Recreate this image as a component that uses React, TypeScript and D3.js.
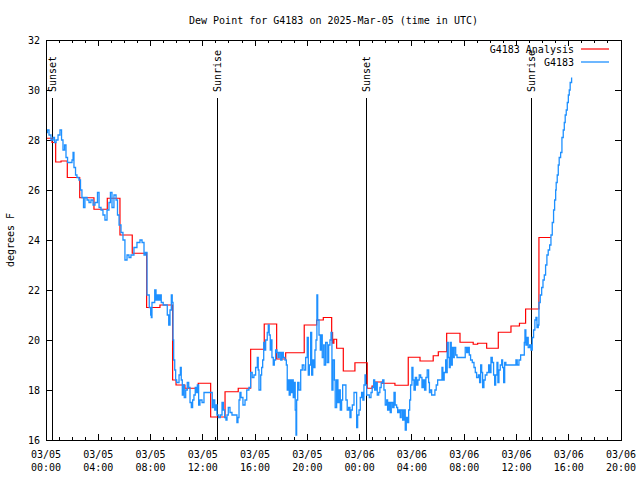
import React from "react";
import * as d3 from "d3";

// ---------- data ----------
const titleText = "Dew Point for G4183 on 2025-Mar-05 (time in UTC)";
const yLabel = "degrees F";
const seriesNames = ["G4183 Analysis", "G4183"];

// hours since 03/05 00:00 UTC
const xTickHours = [0, 4, 8, 12, 16, 20, 24, 28, 32, 36, 40, 44];
const xTickDates = ["03/05", "03/05", "03/05", "03/05", "03/05", "03/05", "03/06", "03/06", "03/06", "03/06", "03/06", "03/06"];
const xTickTimes = ["00:00", "04:00", "08:00", "12:00", "16:00", "20:00", "00:00", "04:00", "08:00", "12:00", "16:00", "20:00"];
const yTicks = [16, 18, 20, 22, 24, 26, 28, 30, 32];

const sunEventHours = [0.48, 13.1, 24.5, 37.13];
const sunEventLabels = ["Sunset", "Sunrise", "Sunset", "Sunrise"];

// analysis (red, step)
const analysisHours = [0.05, 0.46, 0.74, 1.15, 1.63, 2.58, 3.67, 4.69, 5.66, 6.6, 7.7, 8.72, 9.69, 9.95, 10.63, 11.65, 12.6, 13.7, 14.71, 15.66, 16.7, 17.65, 18.34, 19.76, 20.71, 21.22, 21.86, 21.93, 22.03, 22.24, 22.75, 23.64, 24.58, 24.95, 25.17, 25.68, 26.7, 27.72, 28.62, 29.63, 30.02, 30.66, 31.68, 32.69, 33.03, 33.72, 34.61, 35.58, 36.23, 36.7, 37.72, 38.64];
const analysisValues = [28.07, 27.9, 27.12, 27.16, 26.5, 25.69, 25.23, 25.67, 24.2, 23.47, 21.3, 21.4, 18.4, 18.2, 18.07, 18.27, 16.92, 17.93, 18.07, 19.63, 20.64, 19.24, 19.49, 20.6, 20.8, 20.9, 20.3, 19.87, 20.03, 19.67, 18.76, 19.09, 18.07, 18.16, 18.32, 18.27, 18.19, 19.31, 19.16, 19.37, 19.53, 20.27, 19.91, 19.83, 19.87, 19.67, 20.31, 20.56, 20.67, 21.24, 24.1, 24.1];

// observations (blue, step)
const obsHours = [
  0.04, 0.11, 0.23, 0.38, 0.54, 0.65, 0.77, 0.92, 1.07, 1.19, 1.3, 1.42, 1.53, 1.65, 1.84, 1.99, 2.07, 2.14, 2.26, 2.37,
  2.52, 2.64, 2.75, 2.87, 2.98, 3.14, 3.29, 3.44, 3.6, 3.75, 3.94, 4.06, 4.21, 4.36, 4.51, 4.67, 4.82, 4.93, 5.05, 5.2,
  5.36, 5.47, 5.59, 5.74, 5.89, 6.04, 6.2, 6.35, 6.5, 6.73, 6.96, 7.19, 7.35, 7.5, 7.61, 7.73, 7.9, 8.01, 8.06, 8.11,
  8.32, 8.42, 8.52, 8.62, 8.72, 8.82, 8.97, 9.28, 9.39, 9.49, 9.59, 9.66, 9.72, 9.77, 9.85, 9.92, 10.0, 10.1, 10.18, 10.28,
  10.35, 10.43, 10.5, 10.58, 10.69, 10.81, 10.92, 11.02, 11.12, 11.22, 11.32, 11.42, 11.5, 11.58, 11.68, 11.78, 11.94, 12.09, 12.42, 12.68,
  12.72, 12.8, 12.91, 13.01, 13.08, 13.21, 13.34, 13.47, 13.57, 13.67, 13.77, 13.85, 13.95, 14.08, 14.23, 14.48, 14.61, 14.69, 14.77, 14.84,
  14.92, 15.07, 15.23, 15.36, 15.53, 15.66, 15.78, 15.91, 16.04, 16.17, 16.24, 16.3, 16.43, 16.5, 16.58, 16.66, 16.7, 16.81, 16.93, 17.01,
  17.08, 17.16, 17.21, 17.29, 17.39, 17.47, 17.57, 17.67, 17.75, 17.85, 17.96, 18.06, 18.16, 18.29, 18.39, 18.46, 18.54, 18.61, 18.69, 18.77,
  18.84, 18.92, 19.0, 19.07, 19.13, 19.18, 19.26, 19.36, 19.49, 19.61, 19.74, 19.87, 19.99, 20.07, 20.15, 20.25, 20.33, 20.41, 20.5, 20.58,
  20.66, 20.73, 20.79, 20.89, 20.99, 21.06, 21.14, 21.25, 21.29, 21.4, 21.52, 21.63, 21.73, 21.81, 21.88, 21.96, 22.07, 22.13, 22.24, 22.34,
  22.44, 22.52, 22.62, 22.7, 22.88, 22.95, 23.05, 23.16, 23.26, 23.34, 23.44, 23.57, 23.66, 23.77, 23.85, 23.95, 24.05, 24.15, 24.25, 24.33,
  24.41, 24.46, 24.54, 24.74, 24.87, 24.96, 25.07, 25.15, 25.25, 25.35, 25.46, 25.55, 25.65, 25.76, 25.86, 25.96, 26.07, 26.14, 26.24, 26.34,
  26.42, 26.53, 26.63, 26.72, 26.83, 26.91, 27.01, 27.11, 27.18, 27.29, 27.39, 27.49, 27.57, 27.67, 27.75, 27.83, 27.9, 28.0, 28.08, 28.16,
  28.26, 28.36, 28.46, 28.56, 28.67, 28.77, 28.87, 28.97, 29.07, 29.17, 29.28, 29.34, 29.4, 29.51, 29.66, 29.76, 29.86, 29.97, 30.17, 30.3,
  30.37, 30.47, 30.58, 30.63, 30.7, 30.78, 30.86, 30.93, 31.01, 31.09, 31.16, 31.24, 31.35, 31.45, 32.0, 32.08, 32.19, 32.29, 32.39, 32.49,
  32.62, 32.75, 32.85, 32.95, 33.08, 33.18, 33.26, 33.34, 33.41, 33.51, 33.61, 33.74, 33.87, 33.97, 34.05, 34.15, 34.25, 34.33, 34.41, 34.51,
  34.58, 34.66, 34.76, 34.87, 34.94, 35.02, 35.1, 35.19, 35.88, 35.96, 36.06, 36.19, 36.32, 36.52, 36.6, 36.65, 36.72, 36.8, 36.9, 37.01,
  37.11, 37.21, 37.31, 37.41, 37.49, 37.57, 37.67, 37.72, 37.82, 37.93, 38.03, 38.13, 38.23, 38.33, 38.43, 38.54, 38.64, 38.74, 38.84, 38.92,
  39.0, 39.04, 39.12, 39.2, 39.27, 39.38, 39.48, 39.58, 39.66, 39.73, 39.81, 39.89, 39.97, 40.04, 40.11, 40.22,
];
const obsValues = [
  28.3, 28.4, 28.2, 28.0, 28.1, 27.9, 28.0, 28.2, 28.4, 28.0, 27.6, 27.8, 27.3, 27.1, 27.1, 27.2, 27.5, 26.9, 26.6, 26.5,
  26.4, 26.0, 25.7, 25.3, 25.7, 25.6, 25.5, 25.6, 25.4, 25.5, 25.9, 25.3, 25.2, 25.0, 24.8, 25.2, 25.5, 25.9, 25.3, 25.8,
  25.6, 25.0, 24.6, 24.3, 24.0, 23.2, 23.4, 23.3, 23.4, 23.7, 23.9, 24.0, 23.9, 23.4, 23.5, 21.8, 21.3, 21.0, 20.9, 21.5,
  22.0, 21.6, 21.8, 21.6, 21.8, 21.5, 21.4, 21.0, 20.6, 21.2, 21.8, 21.5, 20.0, 19.2, 18.8, 18.4, 18.3, 18.3, 18.6, 18.9,
  18.4, 17.8, 18.2, 17.7, 18.0, 18.3, 18.1, 17.5, 17.3, 17.6, 17.8, 18.1, 17.9, 18.2, 17.4, 17.6, 17.5, 17.9, 17.9, 17.9,
  17.3, 17.6, 17.2, 17.4, 17.0, 16.9, 17.0, 17.5, 17.2, 16.9, 16.8, 17.0, 17.3, 17.1, 17.0, 17.0, 16.7, 16.9, 17.6, 17.9,
  17.7, 17.4, 17.6, 18.0, 18.1, 18.7, 18.5, 18.6, 18.9, 19.3, 18.8, 18.0, 18.6, 18.9, 19.2, 19.9, 19.6, 20.0, 20.3, 20.6,
  20.2, 19.6, 20.0, 19.3, 19.0, 19.2, 19.6, 19.5, 19.3, 19.5, 19.2, 19.5, 19.3, 19.2, 19.0, 18.0, 18.4, 17.8, 18.4, 17.9,
  18.4, 17.7, 18.3, 17.2, 16.2, 17.6, 18.3, 18.0, 18.8, 19.0, 18.8, 19.3, 20.1, 18.6, 19.0, 20.3, 18.6, 19.2, 18.9, 19.6,
  20.0, 21.8, 20.8, 20.2, 19.6, 20.2, 19.3, 19.8, 19.0, 19.9, 19.1, 19.8, 20.0, 20.3, 18.0, 19.2, 18.4, 17.3, 18.4, 17.5,
  18.0, 17.2, 17.6, 18.2, 18.2, 17.6, 17.2, 17.3, 16.9, 17.2, 17.4, 17.9, 17.9, 16.5, 17.0, 17.2, 17.7, 17.9, 17.6, 18.2,
  18.6, 18.2, 17.8, 17.7, 17.9, 18.1, 18.4, 18.0, 18.3, 17.8, 17.9, 18.1, 18.3, 18.4, 18.0, 17.4, 17.6, 17.2, 17.5, 17.1,
  17.5, 17.3, 17.9, 17.4, 17.3, 17.1, 17.2, 16.9, 17.2, 16.8, 17.2, 16.4, 16.9, 16.7, 17.2, 17.6, 18.2, 18.9, 18.4, 18.0,
  18.5, 18.2, 18.4, 18.6, 18.5, 18.1, 18.4, 18.0, 18.5, 18.8, 18.3, 17.9, 18.0, 17.8, 17.8, 18.0, 18.2, 18.4, 18.4, 18.9,
  18.4, 18.7, 19.2, 18.7, 19.9, 19.3, 18.9, 19.9, 19.0, 19.7, 19.3, 19.7, 19.4, 19.3, 19.3, 19.7, 19.5, 19.7, 19.4, 19.2,
  19.1, 18.9, 18.7, 18.5, 18.6, 18.3, 19.0, 18.7, 18.1, 18.4, 18.6, 18.7, 19.0, 18.7, 19.3, 19.1, 18.6, 18.2, 18.6, 19.1,
  18.3, 18.8, 19.0, 19.2, 18.9, 18.3, 19.1, 19.0, 19.0, 19.2, 19.0, 19.2, 19.4, 19.4, 19.9, 20.4, 19.8, 20.1, 19.7, 19.8,
  19.6, 20.1, 20.4, 20.8, 20.9, 20.5, 20.6, 21.5, 21.8, 22.1, 22.4, 22.6, 23.0, 23.4, 23.6, 23.8, 24.2, 24.7, 25.2, 25.6,
  26.0, 26.3, 26.6, 27.0, 27.3, 27.5, 28.1, 28.4, 28.7, 29.0, 29.2, 29.5, 29.8, 30.0, 30.3, 30.5,
];

const RED = "#ff0000";
const BLUE = "#1e90ff";
const FONT = "'DejaVu Sans Mono', 'Liberation Mono', monospace";

export default function App() {
  const W = 640, H = 480;
  const left = 46, right = 621, top = 40, bottom = 440;
  const x = d3.scaleLinear().domain([0, 44]).range([left, right]);
  const y = d3.scaleLinear().domain([16, 32]).range([bottom, top]);

  const line = d3
    .line<[number, number]>()
    .x((d) => x(d[0]))
    .y((d) => y(d[1]))
    .curve(d3.curveStepAfter);

  const analysis: [number, number][] = analysisHours.map((h, i) => [h, analysisValues[i]]);
  const obs: [number, number][] = obsHours.map((h, i) => [h, obsValues[i]]);

  const minorHours = d3.range(0, 45, 1).filter((h) => h % 4 !== 0);

  return (
    <svg
      width={W}
      height={H}
      style={{ position: "absolute", left: 0, top: 0, background: "#fff" }}
      fontFamily={FONT}
      fontSize={10}
    >
      <rect x={0} y={0} width={W} height={H} fill="#fff" />
      {/* title */}
      <text x={(left + right) / 2} y={24} textAnchor="middle" fill="#000">
        {titleText}
      </text>
      {/* y label */}
      <text transform={`translate(14,${(top + bottom) / 2}) rotate(-90)`} textAnchor="middle" fill="#000">
        {yLabel}
      </text>

      {/* ticks */}
      <g stroke="#000" strokeWidth={1} shapeRendering="crispEdges">
        {xTickHours.map((h) => (
          <g key={"M" + h}>
            <line x1={x(h)} x2={x(h)} y1={bottom} y2={bottom - 6} />
            <line x1={x(h)} x2={x(h)} y1={top} y2={top + 6} />
          </g>
        ))}
        {minorHours.map((h) => (
          <g key={"m" + h}>
            <line x1={x(h)} x2={x(h)} y1={bottom} y2={bottom - 3} />
            <line x1={x(h)} x2={x(h)} y1={top} y2={top + 3} />
          </g>
        ))}
        {yTicks.map((v) => (
          <g key={"y" + v}>
            <line x1={left} x2={left + 6} y1={y(v)} y2={y(v)} />
            <line x1={right} x2={right - 6} y1={y(v)} y2={y(v)} />
          </g>
        ))}
      </g>

      {/* tick labels */}
      {yTicks.map((v) => (
        <text key={"yl" + v} x={left - 6} y={y(v) + 4} textAnchor="end" fill="#000">
          {v}
        </text>
      ))}
      {xTickHours.map((h, i) => (
        <g key={"xl" + h}>
          <text x={x(h)} y={458} textAnchor="middle" fill="#000">
            {xTickDates[i]}
          </text>
          <text x={x(h)} y={471} textAnchor="middle" fill="#000">
            {xTickTimes[i]}
          </text>
        </g>
      ))}

      {/* sunrise / sunset */}
      {sunEventHours.map((h, i) => (
        <g key={"sun" + i}>
          <line x1={x(h)} x2={x(h)} y1={98} y2={bottom} stroke="#000" strokeWidth={1} shapeRendering="crispEdges" />
          <text transform={`translate(${x(h) + 4},92) rotate(-90)`} textAnchor="start" fill="#000">
            {sunEventLabels[i]}
          </text>
        </g>
      ))}

      {/* series */}
      <path d={line(analysis) || ""} fill="none" stroke={RED} strokeWidth={1.2} />
      <path d={line(obs) || ""} fill="none" stroke={BLUE} strokeWidth={1.3} />

      {/* legend */}
      <text x={574} y={53} textAnchor="end" fill="#000">{seriesNames[0]}</text>
      <line x1={581} x2={609} y1={49} y2={49} stroke={RED} strokeWidth={1.2} />
      <text x={574} y={66} textAnchor="end" fill="#000">{seriesNames[1]}</text>
      <line x1={581} x2={609} y1={62} y2={62} stroke={BLUE} strokeWidth={1.3} />

      {/* frame */}
      <rect x={left} y={top} width={right - left} height={bottom - top} fill="none" stroke="#000" strokeWidth={1} shapeRendering="crispEdges" />
    </svg>
  );
}
